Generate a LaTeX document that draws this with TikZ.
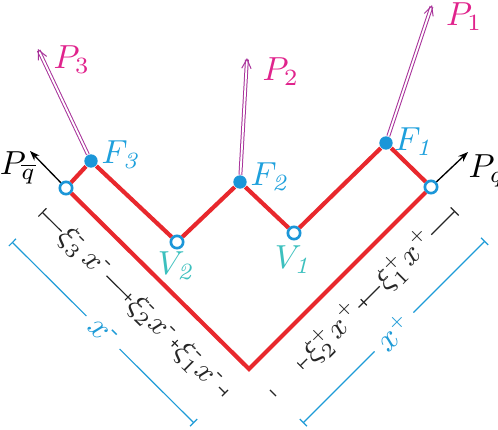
\documentclass[tikz,border=0pt]{standalone}
\usepackage{amsmath}
\usepackage{tikz}
\usetikzlibrary{arrows.meta,positioning,calc}
\definecolor{linered}{HTML}{E8282D}
\definecolor{dotblue}{HTML}{1B96D8}
\definecolor{flabel}{HTML}{1EA0DC}
\definecolor{vlabel}{HTML}{3CC0BE}
\definecolor{plabel}{HTML}{E0238C}
\definecolor{photon}{HTML}{A8329A}
\definecolor{dimblue}{HTML}{1E9BD7}
\newcommand{\mn}{\text{-}}
\newcommand{\pl}{\scriptscriptstyle +}

\begin{document}
\begin{tikzpicture}[x=0.3pt, y=-0.3pt,
  parton/.style={draw=linered, line width=1.25pt},
  opendot/.style={circle, draw=dotblue, fill=white, line width=0.8pt, inner sep=0pt, minimum size=3.7pt},
  fulldot/.style={circle, fill=dotblue, inner sep=0pt, minimum size=4pt},
  quark/.style={-{Stealth[length=3pt, width=2.2pt]}, line width=0.4pt},
  gluon/.style={draw=photon, double, double distance=0.55pt, line width=0.3pt, -{Straight Barb[length=2.8pt, width=2.8pt]}},
  plbl/.style={text=plabel, inner sep=0pt},
  flbl/.style={text=flabel, inner sep=0pt},
  vlbl/.style={text=vlabel, inner sep=0pt},
  qlbl/.style={inner sep=0pt},
  dimline/.style={line width=0.35pt, black!85},
  dimtick/.style={sloped, draw, inner sep=0pt, minimum width=0pt, minimum height=2.6pt},
  dimtext/.style={sloped, fill=white, inner sep=0.4pt, font=\small}
]
  \useasboundingbox (0,0) rectangle (498,429);

  % vertices of the two lines
  \node[opendot] (qbar) at (66,188) {};
  \node[opendot] (q) at (431,187) {};
  \node[fulldot] (F3) at (91,161) {};
  \node[fulldot] (F2) at (240,182) {};
  \node[fulldot] (F1) at (386,143) {};
  \node[opendot] (V2) at (177,242) {};
  \node[opendot] (V1) at (294,233) {};
  \coordinate (bot) at (249,369);

  \draw[parton] (qbar) -- (bot) -- (q);
  \draw[parton] (qbar) -- (F3) -- (V2) -- (F2) -- (V1) -- (F1) -- (q);

  % outgoing momenta
  \coordinate (tipqbar) at (30,151);
  \coordinate (tipq) at (468,152);
  \coordinate (tip3) at (38,49);
  \coordinate (tip2) at (247,58);
  \coordinate (tip1) at (432,5);
  \draw[quark] (qbar) -- (tipqbar);
  \draw[quark] (q) -- (tipq);
  \draw[gluon] (F3) -- (tip3);
  \draw[gluon] (F2) -- (tip2);
  \draw[gluon] (F1) -- (tip1);

  \node[qlbl, below left=0pt and -2pt of tipqbar] (Pqbarlbl) {$P_{\overline{q}}$};
  \node[qlbl, below right=0.6pt and 0pt of tipq] (Pqlbl) {$P_q$};
  \node[plbl, below right=-1.2pt and 4.5pt of tip3] (P3lbl) {$P_3$};
  \node[plbl, below right=-0.3pt and 4.5pt of tip2] (P2lbl) {$P_2$};
  \node[plbl, below right=-1pt and 4pt of tip1] (P1lbl) {$P_1$};

  \node[flbl, right=0.8pt of F3, yshift=1.8pt] (F3lbl) {$F_{\mathit{3}}$};
  \node[flbl, right=0.8pt of F2, yshift=1.6pt] (F2lbl) {$F_{\mathit{2}}$};
  \node[flbl, right=0.2pt of F1, yshift=0.5pt] (F1lbl) {$F_{\mathit{1}}$};
  \node[vlbl, below=0.5pt of V2] (V2lbl) {$V_{\mathit{2}}$};
  \node[vlbl, below=1.5pt of V1] (V1lbl) {$V_{\mathit{1}}$};

  % light-cone fractions
  \coordinate (mL0) at (42,212);
  \coordinate (mL1) at (225,393);
  \coordinate (mR0) at (273,393);
  \coordinate (mR1) at (455,211);
  \coordinate (mRa) at ($(mR0)!0.15!(mR1)$);
  \draw[dimline, {Bar[width=3.4pt]}-] (mL0) -- (mL1)
    node[dimtext, pos=0.23] {$\xi_3^{\mn}\, x^{\mn}$}
    node[dimtick, pos=0.47] {}
    node[dimtext, pos=0.6] {$\xi_2^{\mn} x^{\mn}$}
    node[dimtick, pos=0.725] {}
    node[dimtext, pos=0.855] {$\xi_1^{\mn} x^{\mn}$}
    node[dimtick, pos=1] {};
  \path (mR0) -- (mR1) node[dimtick, dimline, pos=0] {};
  \draw[dimline, -{Bar[width=3.4pt]}] (mRa) -- (mR1)
    node[dimtick, pos=0] {}
    node[dimtext, pos=0.21] {$\xi_2^{\pl} x^{\pl}$}
    node[dimtick, pos=0.41] {}
    node[dimtext, pos=0.68] {$\xi_1^{\pl} x^{\pl}$};

  % total light-cone momenta
  \coordinate (bL0) at (12,242);
  \coordinate (bL1) at (194,423);
  \coordinate (bR0) at (303,423);
  \coordinate (bR1) at (485,241);
  \draw[dimline, dimblue, {Bar[width=3pt]}-{Bar[width=3pt]}] (bL0) -- (bL1)
    node[dimtext, pos=0.5, text=dimblue, inner sep=2.5pt, font=\normalsize] {$x^{\mn}$};
  \draw[dimline, dimblue, {Bar[width=3pt]}-{Bar[width=3pt]}] (bR0) -- (bR1)
    node[dimtext, pos=0.5, text=dimblue, inner sep=2.5pt, font=\normalsize] {$x^{\pl}$};
\end{tikzpicture}
\end{document}
